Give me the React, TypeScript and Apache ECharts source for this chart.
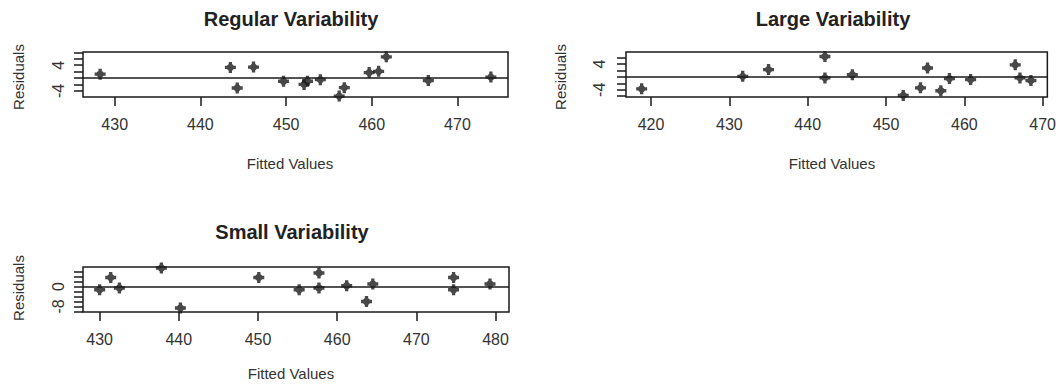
import React, { useEffect, useRef } from "react";
import * as echarts from "echarts";

// ---- Data ----
const regularFitted = [428.3, 443.5, 446.2, 444.3, 449.7, 452.1, 452.5, 454.0, 456.8, 456.2, 459.7, 460.8, 461.7, 466.6, 473.9];
const regularResid = [1.2, 3.3, 3.4, -3.1, -1.0, -2.0, -1.0, -0.5, -3.0, -5.6, 1.7, 2.1, 6.6, -0.8, 0.3];

const largeFitted = [418.8, 431.7, 435.0, 442.2, 442.2, 445.7, 452.2, 454.4, 455.3, 457.0, 458.1, 460.8, 466.5, 467.1, 468.5];
const largeResid = [-3.7, 0.2, 2.3, 6.4, -0.3, 0.7, -5.75, -3.4, 2.8, -4.3, -0.5, -0.8, 3.8, -0.3, -1.1];

const smallFitted = [430.0, 431.4, 432.5, 437.8, 440.2, 450.1, 455.2, 457.7, 457.7, 461.2, 463.7, 464.5, 474.7, 474.7, 479.3];
const smallResid = [-1.3, 3.6, -0.6, 7.4, -8.6, 3.6, -1.3, 5.4, -0.6, 0.3, -6.0, 1.0, 3.6, -1.3, 1.0];

const titles = ["Regular Variability", "Large Variability", "Small Variability"];
const xName = "Fitted Values";
const yName = "Residuals";

const regularXTicks = [430, 440, 450, 460, 470];
const largeXTicks = [420, 430, 440, 450, 460, 470];
const smallXTicks = [430, 440, 450, 460, 470, 480];

const regularYTicks = [-5, -4, -2, 0, 2, 4, 6, 8];
const largeYTicks = [-6, -4, -2, 0, 2, 4, 6];
const smallYTicks = [-10, -8, -6, -4, -2, 0, 2, 4, 6];

const regularYLabels = [-4, 4];
const largeYLabels = [-4, 4];
const smallYLabels = [-8, 0];

const MARKER =
  "path://M-1.5,-5L1.5,-5L1.5,-3.1L3.1,-1.5L5,-1.5L5,1.5L3.1,1.5L1.5,3.1L1.5,5L-1.5,5L-1.5,3.1L-3.1,1.5L-5,1.5L-5,-1.5L-3.1,-1.5L-1.5,-3.1Z";

type Panel = {
  fitted: number[];
  resid: number[];
  grid: { left: number; top: number; width: number; height: number };
  xRange: [number, number];
  yRange: [number, number];
  xTicks: number[];
  yTicks: number[];
  yLabels: number[];
  title: string;
  titlePos: [number, number];
  xNamePos: [number, number];
  yNamePos: [number, number];
  yLabelMargin: number;
};

const panels: Panel[] = [
  {
    fitted: regularFitted,
    resid: regularResid,
    grid: { left: 83, top: 52, width: 425, height: 45 },
    xRange: [426.3, 475.9],
    yRange: [-5.9, 8.1],
    xTicks: regularXTicks,
    yTicks: regularYTicks.filter((v) => v % 2 === 0),
    yLabels: regularYLabels,
    title: titles[0],
    titlePos: [291, 19],
    xNamePos: [290, 163],
    yNamePos: [18, 77],
    yLabelMargin: 17,
  },
  {
    fitted: largeFitted,
    resid: largeResid,
    grid: { left: 626, top: 52, width: 424, height: 45 },
    xRange: [416.8, 470.6],
    yRange: [-6.25, 7.8],
    xTicks: largeXTicks,
    yTicks: largeYTicks,
    yLabels: largeYLabels,
    title: titles[1],
    titlePos: [833, 19],
    xNamePos: [832, 163],
    yNamePos: [560, 77],
    yLabelMargin: 19,
  },
  {
    fitted: smallFitted,
    resid: smallResid,
    grid: { left: 83, top: 267, width: 426, height: 45 },
    xRange: [427.9, 481.7],
    yRange: [-10.2, 7.8],
    xTicks: smallXTicks,
    yTicks: smallYTicks,
    yLabels: smallYLabels,
    title: titles[2],
    titlePos: [292, 232],
    xNamePos: [291, 373],
    yNamePos: [18, 288],
    yLabelMargin: 17,
  },
];

const FONT = "'Liberation Sans', Arial, Helvetica, sans-serif";
const LINE = "#1a1a1a";
const TEXT = "#333333";

export default function App() {
  const ref = useRef<HTMLDivElement>(null);

  useEffect(() => {
    if (!ref.current) return;
    const chart = echarts.init(ref.current, undefined, { renderer: "svg" });

    const option: any = {
      animation: false,
      backgroundColor: "#ffffff",
      textStyle: { fontFamily: FONT },
      grid: panels.map((p) => ({
        ...p.grid,
        show: true,
        borderColor: LINE,
        borderWidth: 1.5,
        backgroundColor: "transparent",
        containLabel: false,
      })),
      xAxis: panels.map((p, i) => ({
        type: "value",
        gridIndex: i,
        position: "bottom",
        min: p.xRange[0],
        max: p.xRange[1],
        axisLine: { show: false, onZero: false },
        splitLine: { show: false },
        axisTick: {
          show: true,
          length: 9,
          inside: false,
          customValues: p.xTicks,
          lineStyle: { color: LINE, width: 1.5 },
        },
        axisLabel: {
          show: true,
          customValues: p.xTicks,
          margin: 19,
          fontSize: 16,
          color: TEXT,
          fontFamily: FONT,
        },
      })),
      yAxis: panels.map((p, i) => ({
        type: "value",
        gridIndex: i,
        position: "left",
        min: p.yRange[0],
        max: p.yRange[1],
        axisLine: { show: false, onZero: false },
        splitLine: { show: false },
        axisTick: {
          show: true,
          length: 9,
          inside: false,
          customValues: p.yTicks,
          lineStyle: { color: LINE, width: 1.5 },
        },
        axisLabel: {
          show: true,
          customValues: p.yLabels,
          rotate: 90,
          margin: p.yLabelMargin,
          fontSize: 16,
          color: TEXT,
          fontFamily: FONT,
        },
      })),
      series: panels.map((p, i) => ({
        type: "scatter",
        xAxisIndex: i,
        yAxisIndex: i,
        data: p.fitted.map((x, k) => [x, p.resid[k]]),
        symbol: MARKER,
        symbolSize: 11,
        itemStyle: { color: "#1a1a1a" },
        clip: true,
        markLine: {
          silent: true,
          symbol: ["none", "none"],
          label: { show: false },
          lineStyle: { color: LINE, width: 1.5, type: "solid" },
          data: [{ yAxis: 0 }],
        },
      })),
      graphic: panels.flatMap((p) => [
        {
          type: "text",
          x: p.titlePos[0],
          y: p.titlePos[1],
          style: {
            text: p.title,
            textAlign: "center",
            textVerticalAlign: "middle",
            font: `bold 20px ${FONT}`,
            fill: "#222222",
          },
        },
        {
          type: "text",
          x: p.xNamePos[0],
          y: p.xNamePos[1],
          style: {
            text: xName,
            textAlign: "center",
            textVerticalAlign: "middle",
            font: `15px ${FONT}`,
            fill: TEXT,
          },
        },
        {
          type: "text",
          x: p.yNamePos[0],
          y: p.yNamePos[1],
          rotation: Math.PI / 2,
          style: {
            text: yName,
            textAlign: "center",
            textVerticalAlign: "middle",
            font: `15px ${FONT}`,
            fill: TEXT,
          },
        },
      ]),
    };

    chart.setOption(option);
    return () => {
      chart.dispose();
    };
  }, []);

  return (
    <div
      ref={ref}
      style={{ position: "fixed", left: 0, top: 0, width: 1059, height: 387, background: "#fff" }}
    />
  );
}
